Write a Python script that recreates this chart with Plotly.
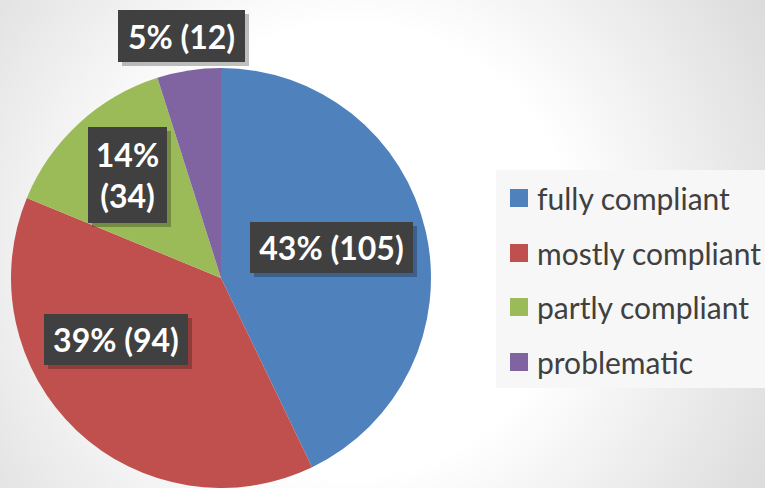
import base64
import plotly.graph_objects as go

# ---- data ----
categories = ["fully compliant", "mostly compliant", "partly compliant", "problematic"]
counts = [105, 94, 34, 12]
percent_labels = [43, 39, 14, 5]
colors = ["#4F81BD", "#C0504D", "#9BBB59", "#8064A2"]

W, H = 765, 488

def px(x):
    return x / W

def py(y):
    return 1 - y / H

fig = go.Figure()
fig.add_trace(go.Pie(
    labels=categories,
    values=counts,
    sort=False,
    direction="clockwise",
    rotation=0,
    marker=dict(colors=colors, line=dict(width=0)),
    textinfo="none",
    hoverinfo="label+value+percent",
    showlegend=False,
    domain=dict(x=[px(11), px(431)], y=[0, py(68)]),
))

# background radial glow (SVG data URI)
svg = f'''<svg xmlns="http://www.w3.org/2000/svg" width="{W}" height="{H}">
<defs><radialGradient id="g" cx="350" cy="250" r="500" gradientUnits="userSpaceOnUse">
<stop offset="0.45" stop-color="#ffffff"/><stop offset="1" stop-color="#d9d9d9"/></radialGradient></defs>
<rect width="{W}" height="{H}" fill="url(#g)"/></svg>'''
src = "data:image/svg+xml;base64," + base64.b64encode(svg.encode()).decode()

shapes = []
annotations = []

# data label boxes (centre px, size px)
label_boxes = [
    (331.5, 247.5, 163, 51),
    (116, 339.5, 144, 51),
    (127.5, 175, 79, 96),
    (181.5, 36, 127, 52),
]
for i, (cx, cy, bw, bh) in enumerate(label_boxes):
    txt = f"{percent_labels[i]}% ({counts[i]})"
    if i == 2:
        txt = f"{percent_labels[i]}%<br>({counts[i]})"
    # shadow
    shapes.append(dict(type="rect", xref="paper", yref="paper", layer="above",
                       x0=px(cx - bw / 2 + 4), x1=px(cx + bw / 2 + 4),
                       y0=py(cy - bh / 2 + 4), y1=py(cy + bh / 2 + 4),
                       fillcolor="rgba(0,0,0,0.25)", line=dict(width=0)))
    annotations.append(dict(
        x=px(cx), y=py(cy), xref="paper", yref="paper",
        xanchor="center", yanchor="middle",
        text=txt, showarrow=False,
        width=bw, height=bh, borderpad=0, borderwidth=0,
        bgcolor="#404040", align="center", valign="middle",
        font=dict(family="Lato", size=32, color="white", weight="bold"),
    ))

# legend box
shapes.append(dict(type="rect", xref="paper", yref="paper", layer="below",
                   x0=px(496), x1=1.0, y0=py(388), y1=py(170),
                   fillcolor="#F7F7F7", line=dict(width=0)))
legend_y = [198, 253, 307, 362]
for i, name in enumerate(categories):
    yc = legend_y[i]
    shapes.append(dict(type="rect", xref="paper", yref="paper", layer="above",
                       x0=px(510), x1=px(528), y0=py(yc + 9), y1=py(yc - 9),
                       fillcolor=colors[i], line=dict(width=0)))
    annotations.append(dict(
        x=px(535), y=py(yc), xref="paper", yref="paper",
        xanchor="left", yanchor="middle", text=name, showarrow=False,
        font=dict(family="Lato", size=30, color="#404040"),
    ))

fig.update_layout(
    width=W, height=H,
    margin=dict(l=0, r=0, t=0, b=0),
    paper_bgcolor="white",
    plot_bgcolor="white",
    images=[dict(source=src, xref="paper", yref="paper", x=0, y=1,
                 sizex=1, sizey=1, sizing="stretch", layer="below",
                 xanchor="left", yanchor="top")],
    shapes=shapes,
    annotations=annotations,
    showlegend=False,
)

fig.write_html("out.html",
               config={"displayModeBar": False},
               post_script="document.body.style.margin='0';document.body.style.overflow='hidden';")
